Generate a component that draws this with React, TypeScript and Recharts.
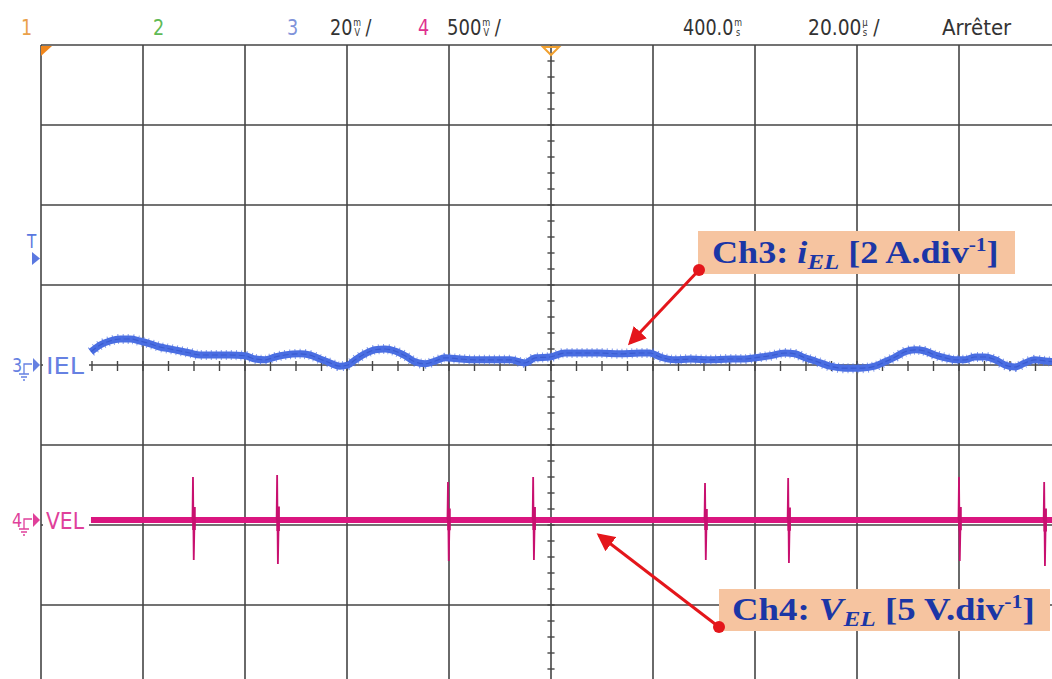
import React from 'react'
import { ComposedChart, Line, XAxis, YAxis, CartesianGrid, ReferenceLine } from 'recharts'

// Ch3: electrolyser current, time in µs from trigger, value in A (2 A/div)
const IEL_T = [-90.2, -88.4, -86.5, -84.5, -82.5, -80.6, -78.6, -76.7, -74.7, -72.7, -70.8, -68.8, -65.9, -62.9, -60.0, -58.0,
  -56.1, -54.1, -52.2, -49.2, -47.3, -45.3, -43.3, -41.4, -39.8, -38.4, -36.5, -34.5, -32.5, -30.6, -28.6, -26.7, -24.7,
  -22.7, -20.8, -17.8, -14.9, -11.0, -8.0, -5.1, -3.1, -0.2, 2.7, 5.7, 9.6, 13.5, 17.5, 19.4, 21.4, 24.3, 27.3, 31.2, 35.1,
  38.0, 40.0, 42.9, 45.9, 47.8, 49.8, 51.8, 54.7, 57.6, 60.6, 63.5, 65.5, 67.5, 69.4, 71.4, 73.3, 75.3, 77.3, 79.2, 81.2,
  83.1, 85.1, 87.1, 89.0, 91.0, 92.9, 94.9, 96.9, 98.8]
const IEL_A = [0.33, 0.5, 0.6, 0.65, 0.65, 0.6, 0.53, 0.45, 0.4, 0.35, 0.3, 0.25, 0.25, 0.25, 0.23, 0.15,
  0.13, 0.2, 0.25, 0.28, 0.25, 0.15, 0.05, -0.03, 0.0, 0.13, 0.28, 0.38, 0.4, 0.35, 0.23, 0.08, 0.03,
  0.1, 0.18, 0.15, 0.13, 0.13, 0.13, 0.05, 0.18, 0.2, 0.3, 0.3, 0.3, 0.28, 0.3, 0.3, 0.2, 0.13, 0.15, 0.13, 0.15,
  0.15, 0.18, 0.23, 0.3, 0.28, 0.18, 0.1, -0.03, -0.08, -0.08, -0.03, 0.08, 0.2, 0.33, 0.38, 0.35, 0.25, 0.18, 0.13, 0.13,
  0.2, 0.2, 0.13, 0.0, -0.05, 0.05, 0.13, 0.1, 0.08]

// Ch4: electrolyser voltage in V (5 V/div), flat with switching spikes
const VEL_T = [-90.2, 100]
const VEL_V = [0, 0]
const SPIKE_T = [-70.2, -53.7, -20.2, -3.5, 30.2, 46.5, 80.0, 96.7]
const SPIKE_HI = [2.69, 2.81, 2.38, 2.69, 2.31, 2.63, 2.69, 2.38]
const SPIKE_LO = [-2.5, -2.75, -2.56, -2.5, -2.5, -2.69, -2.56, -2.88]

const TIME_TICKS = [-100, -80, -60, -40, -20, 0, 20, 40, 60, 80, 100]
const CH3_TICKS = [-8, -6, -4, -2, 0, 2, 4, 6, 8]
const CH4_PER_DIV = 5
const CH4_OFFSET_DIV = -1.9375

const ielData = IEL_T.map((t, i) => ({ t, v: IEL_A[i] }))
const velData = VEL_T.map((t, i) => ({ t, v: VEL_V[i] }))
const spikeData = SPIKE_T.flatMap((t, i) => [
  { t: t - 0.1, v: 0 },
  { t, v: SPIKE_HI[i] },
  { t: t + 0.15, v: SPIKE_LO[i] },
  { t: t + 0.3, v: 0 },
  { t: t + 0.31, v: null },
])
const blobData = SPIKE_T.flatMap((t, i) => [
  { t: t + 0.2, v: SPIKE_HI[i] * 0.3 },
  { t: t + 0.2, v: SPIKE_LO[i] * 0.25 },
  { t: t + 0.21, v: null },
])
const ch4Domain = [(-4 - CH4_OFFSET_DIV) * CH4_PER_DIV, (4 - CH4_OFFSET_DIV) * CH4_PER_DIV]

// minor ticks on the centre axes
const H_MINOR = Array.from({ length: 39 }, (_, i) => -95 + i * 5)
const V_MINOR = Array.from({ length: 39 }, (_, i) => -7.6 + i * 0.4)

const SCOPE_FONT = "'DejaVu Sans', sans-serif"
const SERIF = "'Liberation Serif', 'Times New Roman', serif"
const BLUE = '#4a6ee2'
const MAGENTA = '#da167f'
const NAVY = '#1b36a6'
const RED = '#e4161b'

// header item: main text, optional stacked unit (top over bottom) and trailing slash
function Head({ x, sx, color = '#333', main, top, bot, slashDx }: {
  x: number; sx: number; color?: string; main: string; top?: string; bot?: string; slashDx?: number
}) {
  const topW = top === 'm' ? 9.7 : 6.4
  const botW = bot === 'V' ? 6.8 : 5.2
  return (
    <text transform={`translate(${x},35) scale(${sx},1)`} fontFamily={SCOPE_FONT} fontSize={22} fill={color}>
      {main}
      {top && <tspan fontSize={10} dx={1} dy={-9}>{top}</tspan>}
      {bot && <tspan fontSize={10} dx={-(topW + botW) / 2} dy={10}>{bot}</tspan>}
      {slashDx !== undefined && <tspan dx={slashDx} dy={-1}>/</tspan>}
    </text>
  )
}

function Overlay() {
  return (
    <svg width={1052} height={679} style={{ position: 'absolute', left: 0, top: 0, pointerEvents: 'none' }}>
      <defs>
        <marker id="ah" markerWidth="6" markerHeight="6" refX="5" refY="3" orient="auto" markerUnits="strokeWidth">
          <path d="M0,0 L6,3 L0,6 Z" fill={RED} />
        </marker>
      </defs>

      {/* header */}
      <Head x={21} sx={0.8} color="#eaa04a" main="1" />
      <Head x={153} sx={0.8} color="#5fba55" main="2" />
      <Head x={287} sx={0.8} color="#7f93da" main="3" />
      <Head x={330} sx={0.8} main="20" top="m" bot="V" slashDx={7} />
      <Head x={418} sx={0.8} color="#e0308f" main="4" />
      <Head x={447} sx={0.82} main="500" top="m" bot="V" slashDx={7} />
      <Head x={683} sx={0.8} main="400.0" top="m" bot="s" />
      <Head x={808} sx={0.85} main="20.00" top="µ" bot="s" slashDx={7} />
      <Head x={942} sx={0.9} main="Arrêter" />

      {/* markers */}
      <path d="M41,46 L52,46 L41,56 Z" fill="#f0861c" />
      <path d="M543,47 L559,47 L551,55 Z" fill="none" stroke="#f0a030" strokeWidth={2} />
      <text transform="translate(27,248) scale(0.8,1)" fontFamily={SCOPE_FONT} fontSize={19} fill="#5a78e0">T</text>
      <path d="M32,252 L40,258.5 L32,265 Z" fill="#5a78e0" />

      {[{ y: 365, n: '3', name: 'IEL', c: '#6681e2' }, { y: 520, n: '4', name: 'VEL', c: '#e0409a' }].map((m) => (
        <g key={m.n} fill={m.c} stroke={m.c}>
          <rect x={43} y={m.y - 10} width={46} height={20} fill="#fff" stroke="none" />
          <text transform={`translate(12,${m.y + 7}) scale(0.8,1)`} fontFamily={SCOPE_FONT} fontSize={20} stroke="none">{m.n}</text>
          <path d={`M24,${m.y + 9} V${m.y - 1} H32`} fill="none" strokeWidth={1.3} />
          <path d={`M19,${m.y + 9} H29 M21,${m.y + 12} H27 M23,${m.y + 15} H25`} fill="none" strokeWidth={1.3} />
          <path d={`M33,${m.y - 7} L40,${m.y} L33,${m.y + 7} Z`} stroke="none" />
          <text x={46} y={m.y + 9} fontFamily={SCOPE_FONT} fontSize={23} stroke="none" textLength={38} lengthAdjust="spacingAndGlyphs">{m.name}</text>
        </g>
      ))}

      {/* annotations */}
      <rect x={698} y={231} width={317} height={43} fill="#f6c4a0" />
      <text transform="translate(712,263) scale(1.13,1)" fontFamily={SERIF} fontWeight="bold" fontSize={32} fill={NAVY}>
        Ch3: <tspan fontStyle="italic">i</tspan>
        <tspan fontStyle="italic" fontSize={22} dy={6}>EL</tspan>
        <tspan dy={-6}> [2 A.div</tspan>
        <tspan fontSize={19} dy={-12}>-1</tspan>
        <tspan dy={12}>]</tspan>
      </text>
      <line x1={699} y1={270} x2={630} y2={343} stroke={RED} strokeWidth={3} markerEnd="url(#ah)" />
      <circle cx={699} cy={270} r={6} fill={RED} />

      <rect x={719} y={589} width={331} height={42} fill="#f6c4a0" />
      <text transform="translate(732,620) scale(1.15,1)" fontFamily={SERIF} fontWeight="bold" fontSize={32} fill={NAVY}>
        Ch4: <tspan fontStyle="italic">V</tspan>
        <tspan fontStyle="italic" fontSize={22} dy={6}>EL</tspan>
        <tspan dy={-6}> [5 V.div</tspan>
        <tspan fontSize={19} dy={-12}>-1</tspan>
        <tspan dy={12}>]</tspan>
      </text>
      <line x1={719} y1={627} x2={599} y2={535} stroke={RED} strokeWidth={3} markerEnd="url(#ah)" />
      <circle cx={719} cy={627} r={6} fill={RED} />
    </svg>
  )
}

export default function App() {
  return (
    <div style={{ position: 'absolute', left: 0, top: 0, width: 1052, height: 679, overflow: 'hidden', background: '#fff' }}>
      <ComposedChart width={1062} height={690} margin={{ top: 45, right: 1, bottom: 5, left: 41 }}>
        <XAxis type="number" dataKey="t" domain={[-100, 100]} ticks={TIME_TICKS} hide allowDataOverflow />
        <YAxis yAxisId="ch3" type="number" domain={[-8, 8]} ticks={CH3_TICKS} hide allowDataOverflow />
        <YAxis yAxisId="ch4" type="number" domain={ch4Domain} hide allowDataOverflow />
        <CartesianGrid yAxisId="ch3" stroke="#454545" strokeWidth={1.6} />
        {H_MINOR.map((t) => (
          <ReferenceLine key={'h' + t} yAxisId="ch3" segment={[{ x: t, y: -0.15 }, { x: t, y: 0.1 }]} stroke="#454545" strokeWidth={1.4} />
        ))}
        {V_MINOR.map((v) => (
          <ReferenceLine key={'v' + v} yAxisId="ch3" segment={[{ x: -0.7, y: v }, { x: 0.7, y: v }]} stroke="#454545" strokeWidth={1.4} />
        ))}
        <Line yAxisId="ch3" data={ielData} dataKey="v" type="monotone" stroke={BLUE} strokeWidth={7} dot={false} isAnimationActive={false} />
        <Line yAxisId="ch3" data={ielData} dataKey="v" type="monotone" stroke={BLUE} strokeWidth={10} strokeDasharray="1 4" strokeOpacity={0.7} dot={false} isAnimationActive={false} />
        <Line yAxisId="ch3" data={ielData} dataKey="v" type="monotone" stroke="#3a5bd0" strokeWidth={1.2} strokeDasharray="6 3" dot={false} isAnimationActive={false} />
        <Line yAxisId="ch4" data={velData} dataKey="v" type="linear" stroke={MAGENTA} strokeWidth={6} dot={false} isAnimationActive={false} />
        <Line yAxisId="ch4" data={spikeData} dataKey="v" type="linear" stroke="#c8106f" strokeWidth={1.8} dot={false} connectNulls={false} isAnimationActive={false} />
        <Line yAxisId="ch4" data={blobData} dataKey="v" type="linear" stroke="#c8106f" strokeWidth={3.5} dot={false} connectNulls={false} isAnimationActive={false} />
      </ComposedChart>
      <Overlay />
    </div>
  )
}
